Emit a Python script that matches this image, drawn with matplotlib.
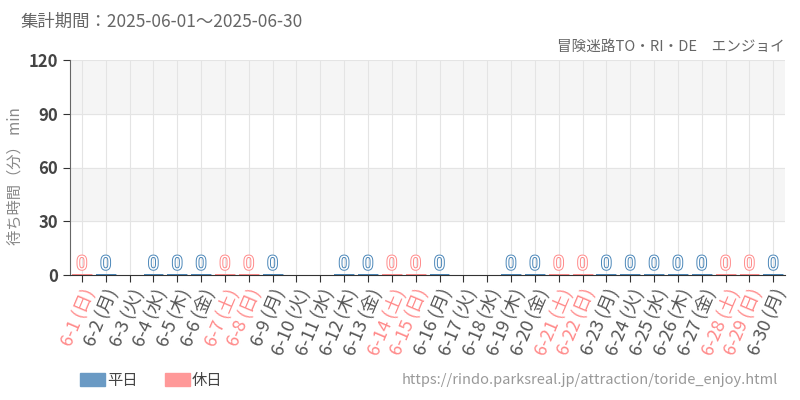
import matplotlib
matplotlib.use('Agg')
import matplotlib.pyplot as plt
import matplotlib.patheffects as pe
from matplotlib.patches import Rectangle

plt.rcParams['font.family'] = ['Noto Sans CJK JP', 'DejaVu Sans']

days = ['6-1', '6-2', '6-3', '6-4', '6-5', '6-6', '6-7', '6-8', '6-9', '6-10',
        '6-11', '6-12', '6-13', '6-14', '6-15', '6-16', '6-17', '6-18', '6-19', '6-20',
        '6-21', '6-22', '6-23', '6-24', '6-25', '6-26', '6-27', '6-28', '6-29', '6-30']
weekdays = ['日', '月', '火', '水', '木', '金', '土', '日', '月', '火',
            '水', '木', '金', '土', '日', '月', '火', '水', '木', '金',
            '土', '日', '月', '火', '水', '木', '金', '土', '日', '月']
holiday = [1, 0, 0, 0, 0, 0, 1, 1, 0, 0,
           0, 0, 0, 1, 1, 0, 0, 0, 0, 0,
           1, 1, 0, 0, 0, 0, 0, 1, 1, 0]
# wait times per day (min); None = no data
waits = [[0], [0], None, [0], [0], [0], [0], [0], [0], None,
         None, [0], [0], [0], [0], [0], None, None, [0], [0],
         [0], [0], [0], [0], [0], [0], [0], [0], [0], [0]]
yticks = [0, 30, 60, 90, 120]

blue = '#4a86b8'
pink = '#ff8a8a'

fig = plt.figure(figsize=(8, 4), dpi=100)
ax = fig.add_axes([0.0875, 0.3125, 0.894, 0.5375])

ax.set_xlim(-0.5, len(days) - 0.5)
ax.set_ylim(0, 120)
for lo in (30, 90):
    ax.axhspan(lo, lo + 30, color='#f5f5f5', zorder=0)
for y in yticks[1:]:
    ax.axhline(y, color='#e4e4e4', lw=0.8, zorder=0.5)
for i in range(len(days)):
    ax.axvline(i, color='#e4e4e4', lw=0.8, zorder=0.5)

for i, w in enumerate(waits):
    if w is None:
        continue
    c = pink if holiday[i] else blue
    ax.boxplot([w], positions=[i], widths=0.75, manage_ticks=False,
               patch_artist=False, showfliers=False,
               boxprops=dict(color=c, lw=1.8), medianprops=dict(color=c, lw=1.8),
               whiskerprops=dict(color=c), capprops=dict(color=c))
    ax.text(i, max(w) + 0.8, str(max(w)), ha='center', va='bottom', fontsize=14,
            color='white', zorder=5, fontfamily=['Roboto', 'DejaVu Sans'],
            path_effects=[pe.withStroke(linewidth=1.4, foreground=c)])

ax.set_xticks(range(len(days)))
ax.set_xticklabels([f'{d} ({w})' for d, w in zip(days, weekdays)],
                   rotation=67, ha='right', va='top', rotation_mode='anchor', fontsize=13)
for lab, h in zip(ax.get_xticklabels(), holiday):
    lab.set_color(pink if h else '#555555')
ax.set_yticks(yticks)
ax.tick_params(axis='y', labelsize=12, labelcolor='#444444', color='#333333', length=5)
ax.tick_params(axis='x', color='#333333', length=5, pad=3)
for lab in ax.get_yticklabels():
    lab.set_fontweight('bold')
for s in ('top', 'right'):
    ax.spines[s].set_visible(False)
ax.spines['left'].set_color('#666666')
ax.spines['bottom'].set_color('#333333')
ax.set_ylabel('待ち時間（分） min', fontsize=11, color='#888888')
ax.yaxis.set_label_coords(-0.065, 0.46)

fig.text(0.025, 0.945, '集計期間：2025-06-01～2025-06-30', fontsize=12.5, color='#666666', va='center')
fig.text(0.981, 0.882, '冒険迷路TO・RI・DE　エンジョイ', fontsize=10.5, color='#666666',
         ha='right', va='center')

fig.patches.append(Rectangle((0.1, 0.035), 0.031, 0.032, color='#6a9ac4', transform=fig.transFigure))
fig.text(0.134, 0.05, '平日', fontsize=11, color='#444444', va='center')
fig.patches.append(Rectangle((0.206, 0.035), 0.031, 0.032, color='#ff9999', transform=fig.transFigure))
fig.text(0.24, 0.05, '休日', fontsize=11, color='#444444', va='center')
fig.text(0.973, 0.05, 'https://rindo.parksreal.jp/attraction/toride_enjoy.html', fontsize=10.5,
         color='#999999', ha='right', va='center')

fig.savefig('out.png', dpi=100)
